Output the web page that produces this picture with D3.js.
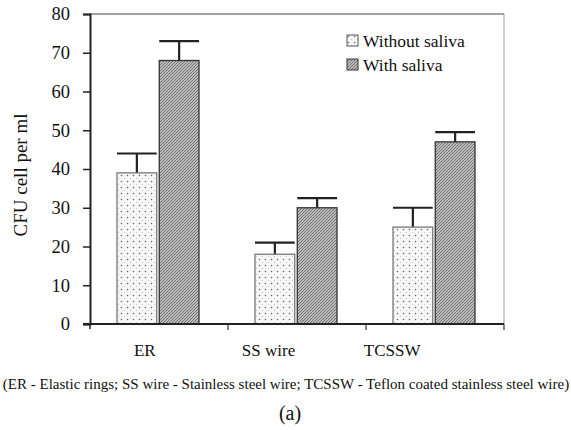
<!DOCTYPE html>
<html>
<head>
<meta charset="utf-8">
<script src="https://cdn.jsdelivr.net/npm/d3@7"></script>
<style>
  body { margin: 0; background: #fff; }
  text { font-family: "Liberation Serif", "Times New Roman", serif; fill: #111; }
</style>
</head>
<body>
<svg id="chart" width="571" height="430"></svg>
<script>
// data
const categories = ["ER", "SS wire", "TCSSW"];
const series = ["Without saliva", "With saliva"];
const withoutSaliva = [39, 18, 25];
const withSaliva = [68, 30, 47];
const withoutErr = [5, 3, 5];
const withErr = [5, 2.5, 2.5];
const yTicks = [0, 10, 20, 30, 40, 50, 60, 70, 80];

const svg = d3.select("#chart");
const plotL = 90, plotR = 504, plotT = 14, plotB = 324;

const x = d3.scaleBand().domain(categories).range([plotL, plotR]);
const xs = d3.scaleBand().domain(series).range([27, 109]).paddingInner(0.06);
// category names sit left of the group centres in the original
const xLab = d3.scaleBand().domain(categories).range([83, 454]);
const y = d3.scaleLinear().domain([0, 80]).range([plotB, plotT]);

// patterns
const defs = svg.append("defs");
let p1 = defs.append("pattern").attr("id", "dots")
  .attr("patternUnits", "userSpaceOnUse").attr("width", 6).attr("height", 6);
p1.append("rect").attr("width", 6).attr("height", 6).attr("fill", "#f7f7f7");
p1.append("circle").attr("cx", 1.5).attr("cy", 1.5).attr("r", 0.8).attr("fill", "#666");
p1.append("circle").attr("cx", 4.5).attr("cy", 4.5).attr("r", 0.6).attr("fill", "#bbb");

let p2 = defs.append("pattern").attr("id", "hatch")
  .attr("patternUnits", "userSpaceOnUse").attr("width", 3).attr("height", 3);
p2.append("rect").attr("width", 3).attr("height", 3).attr("fill", "#bdbdbd");
p2.append("path").attr("d", "M0,3L3,0M-1,1L1,-1M2,4L4,2")
  .attr("stroke", "#5a5a5a").attr("stroke-width", 0.8);

// frame top/right
svg.append("line").attr("x1", plotL).attr("x2", plotR).attr("y1", plotT).attr("y2", plotT)
  .attr("stroke", "#444").attr("stroke-width", 1.2);
svg.append("line").attr("x1", plotR).attr("x2", plotR).attr("y1", plotT).attr("y2", plotB)
  .attr("stroke", "#999").attr("stroke-width", 1);

// bars
const rows = categories.map((c, i) => ({c: c, vals: [
  {s: series[0], v: withoutSaliva[i], e: withoutErr[i]},
  {s: series[1], v: withSaliva[i], e: withErr[i]}
]}));

const groups = svg.selectAll(".grp").data(rows).enter().append("g")
  .attr("transform", d => "translate(" + x(d.c) + ",0)");

groups.selectAll("g.err").data(d => d.vals).enter().append("g").attr("class", "err").each(function(d) {
  const g = d3.select(this);
  const cx = xs(d.s) + xs.bandwidth() / 2;
  g.append("line").attr("x1", cx).attr("x2", cx).attr("y1", y(d.v)).attr("y2", y(d.v + d.e))
    .attr("stroke", "#222").attr("stroke-width", 2.2);
  g.append("line").attr("x1", xs(d.s)).attr("x2", xs(d.s) + xs.bandwidth())
    .attr("y1", y(d.v + d.e)).attr("y2", y(d.v + d.e))
    .attr("stroke", "#222").attr("stroke-width", 2.2);
});

groups.selectAll("rect").data(d => d.vals).enter().append("rect")
  .attr("x", d => xs(d.s))
  .attr("y", d => y(d.v))
  .attr("width", xs.bandwidth())
  .attr("height", d => plotB - y(d.v))
  .attr("fill", d => d.s == series[0] ? "url(#dots)" : "url(#hatch)")
  .attr("stroke", d => d.s == series[0] ? "#777" : "#333")
  .attr("stroke-width", 1.3);

// axes
const yAxis = svg.append("g").attr("transform", "translate(" + plotL + ",0)")
  .call(d3.axisLeft(y).tickValues(yTicks).tickSize(7).tickPadding(13));
yAxis.select(".domain").attr("stroke", "#222").attr("stroke-width", 2);
yAxis.selectAll(".tick line").attr("stroke", "#222").attr("stroke-width", 1.5);
yAxis.selectAll(".tick text").attr("font-family", "Liberation Serif").style("font-size", "18.5px");

svg.append("line").attr("x1", 83).attr("x2", plotR).attr("y1", plotB).attr("y2", plotB)
  .attr("stroke", "#222").attr("stroke-width", 2);
svg.append("line").attr("x1", plotL).attr("x2", plotL).attr("y1", plotB).attr("y2", plotB + 5)
  .attr("stroke", "#222").attr("stroke-width", 1.5);

const xAxis = svg.append("g").attr("transform", "translate(0," + plotB + ")")
  .call(d3.axisBottom(xLab).tickSize(0).tickPadding(20));
xAxis.select(".domain").remove();
xAxis.selectAll(".tick text").attr("font-family", "Liberation Serif").style("font-size", "17px");
// boundary ticks between groups
svg.selectAll(".btick").data(categories).enter().append("line")
  .attr("x1", d => x(d) + x.bandwidth()).attr("x2", d => x(d) + x.bandwidth())
  .attr("y1", plotB).attr("y2", plotB + 6).attr("stroke", "#333").attr("stroke-width", 1.2);

// y label
svg.append("text").attr("transform", "translate(27,175) rotate(-90)")
  .attr("text-anchor", "middle").style("font-size", "19px").text("CFU cell per ml");

// legend
const leg = svg.append("g").attr("transform", "translate(347,35)");
series.forEach((s, i) => {
  leg.append("rect").attr("x", 0).attr("y", i * 24).attr("width", 11).attr("height", 11)
    .attr("fill", i == 0 ? "url(#dots)" : "url(#hatch)")
    .attr("stroke", i == 0 ? "#555" : "#333").attr("stroke-width", 1);
  leg.append("text").attr("x", 16).attr("y", i * 24 + 12).style("font-size", "17.5px").text(s);
});

// footnote and panel label
svg.append("text").attr("x", 286).attr("y", 389).attr("text-anchor", "middle")
  .style("font-size", "15px")
  .text("(ER - Elastic rings; SS wire - Stainless steel wire; TCSSW - Teflon coated stainless steel wire)");
svg.append("text").attr("x", 290).attr("y", 420).attr("text-anchor", "middle")
  .style("font-size", "20px").text("(a)");
</script>
</body>
</html>
